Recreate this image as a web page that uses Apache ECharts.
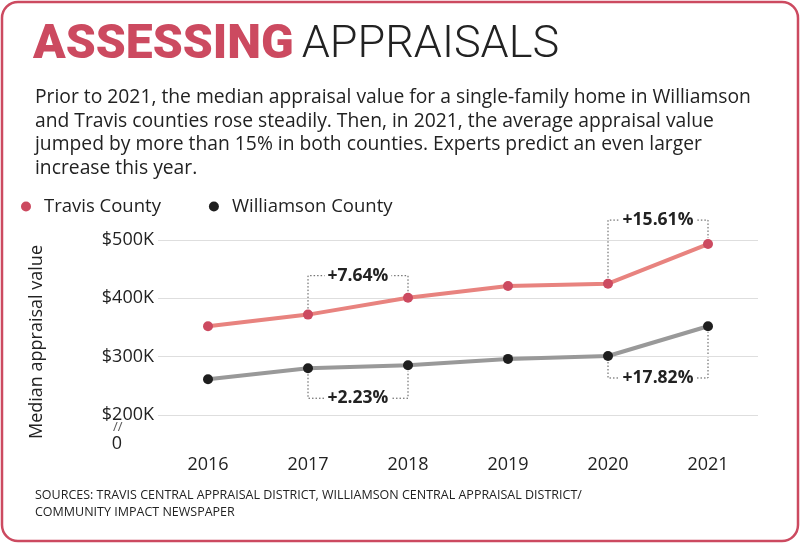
<!DOCTYPE html><html><head><meta charset="utf-8">
<script src="https://cdn.jsdelivr.net/npm/echarts@6/dist/echarts.min.js"></script>
<style>html,body{margin:0;padding:0;background:#fff}#c{width:800px;height:543px}</style></head><body><div id="c"></div>
<script>
const years=['2016','2017','2018','2019','2020','2021'];
const travis=[352000,372000,401000,421000,425000,493000];
const williamson=[261000,280000,285000,296000,301000,352000];
const yTicks=[200000,300000,400000,500000];
const notes=[
 {s:0,a:1,b:2,label:'+7.64%',dir:-1,off:22},
 {s:0,a:4,b:5,label:'+15.61%',dir:-1,off:24},
 {s:1,a:1,b:2,label:'+2.23%',dir:1,off:30},
 {s:1,a:4,b:5,label:'+17.82%',dir:1,off:22}
];
const red='#cc4a60';
const chart=echarts.init(document.getElementById('c'));
const F='"Open Sans", "Noto Sans", sans-serif';
const baseGraphic=[
 {type:'rect',shape:{x:2,y:2,width:796,height:539,r:16},style:{fill:'none',stroke:red,lineWidth:2.5}},
 {type:'text',left:33,top:22,style:{rich:{a:{fontFamily:'Roboto',fontWeight:900,fontSize:48,fill:red},b:{fontFamily:'Roboto',fontWeight:300,fontSize:45,fill:'#222',padding:[0,0,0,8]}},text:'{a|ASSESSING}{b|APPRAISALS}'}},
 {type:'text',left:35,top:86,style:{text:'Prior to 2021, the median appraisal value for a single-family home in Williamson\nand Travis counties rose steadily. Then, in 2021, the average appraisal value\njumped by more than 15% in both counties. Experts predict an even larger\nincrease this year.',fontFamily:F,fontSize:19.3,lineHeight:23.5,fill:'#222'}},
 {type:'text',left:113,top:421,style:{text:'//',fontFamily:F,fontSize:13,fill:'#555'}},
 {type:'text',left:35,top:487,style:{text:'SOURCES: TRAVIS CENTRAL APPRAISAL DISTRICT, WILLIAMSON CENTRAL APPRAISAL DISTRICT/\nCOMMUNITY IMPACT NEWSPAPER',fontFamily:F,fontSize:12.5,lineHeight:17,fill:'#222'}}
];
chart.setOption({
 animation:false,
 textStyle:{fontFamily:F},
 legend:{left:16,top:192,itemGap:48,icon:'circle',itemWidth:10,itemHeight:10,textStyle:{fontSize:18.5,color:'#222',fontFamily:F,padding:[0,0,0,8]},data:['Travis County','Williamson County']},
 grid:{left:158,right:42,top:240,bottom:99},
 xAxis:{type:'category',data:years,axisLine:{show:false},axisTick:{show:false},axisLabel:{fontSize:18,color:'#222',margin:12}},
 yAxis:{type:'value',min:150000,max:500000,interval:50000,name:'Median appraisal value',nameLocation:'middle',nameGap:112,nameTextStyle:{fontSize:18,color:'#222'},
  axisLabel:{fontSize:18,color:'#222',margin:4,rich:{z:{fontSize:18,color:'#222',padding:[0,32,0,0]}},formatter:v=>v===150000?'{z|0}':(yTicks.includes(v)?'$'+v/1000+'K':'')},
  splitLine:{lineStyle:{color:['rgba(0,0,0,0)','#dedede'],width:1}}},
 series:[
  {name:'Travis County',type:'line',data:travis,color:red,symbol:'circle',symbolSize:10,lineStyle:{color:'#e8837f',width:4},itemStyle:{color:red}},
  {name:'Williamson County',type:'line',data:williamson,color:'#1e1e1e',symbol:'circle',symbolSize:10,lineStyle:{color:'#999',width:4},itemStyle:{color:'#1e1e1e'}}
 ],
 graphic:baseGraphic
});
const g=[];
const data=[travis,williamson];
notes.forEach(n=>{
 const pa=chart.convertToPixel({gridIndex:0},[n.a,data[n.s][n.a]]);
 const pb=chart.convertToPixel({gridIndex:0},[n.b,data[n.s][n.b]]);
 const yy=n.dir<0?Math.min(pa[1],pb[1])-n.off:Math.max(pa[1],pb[1])+n.off;
 g.push({type:'polyline',z:0,shape:{points:[[pa[0],pa[1]+n.dir*6],[pa[0],yy],[pb[0],yy],[pb[0],pb[1]+n.dir*6]]},style:{fill:null,stroke:'#555',lineWidth:1,lineDash:[1.5,2]}});
 g.push({type:'text',z:10,x:(pa[0]+pb[0])/2,y:yy,style:{text:n.label,fontFamily:F,fontWeight:'bold',fontSize:17.5,fill:'#222',align:'center',verticalAlign:'middle',backgroundColor:'#fff',padding:[0,3]}});
});
chart.setOption({graphic:baseGraphic.concat(g)});
</script></body></html>
